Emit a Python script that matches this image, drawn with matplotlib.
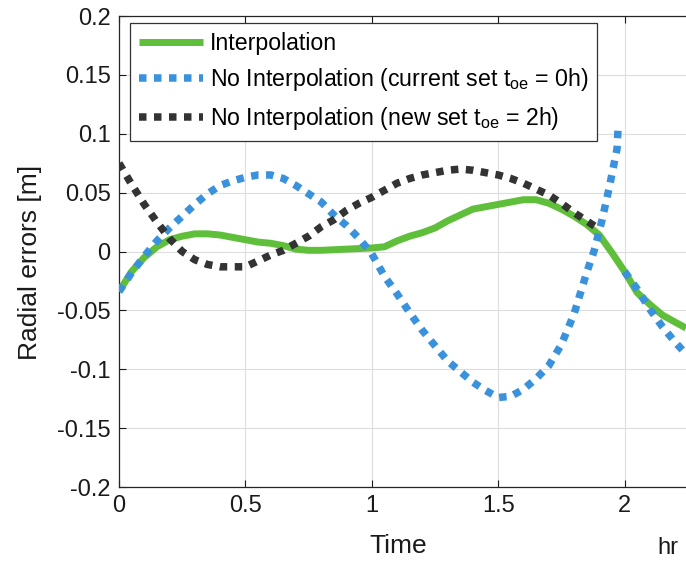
import numpy as np
import matplotlib
matplotlib.use("Agg")
import matplotlib.pyplot as plt

plt.rcParams['font.family'] = ['Liberation Sans', 'DejaVu Sans']
plt.rcParams['mathtext.fontset'] = 'custom'
plt.rcParams['mathtext.rm'] = 'Liberation Sans'
plt.rcParams['mathtext.it'] = 'Liberation Sans:italic'

# ---- data (hours, metres) ----
t_interp = [0, 0.05, 0.1, 0.15, 0.2, 0.25, 0.3, 0.35, 0.4, 0.45, 0.5, 0.55, 0.6, 0.65,
            0.7, 0.75, 0.8, 0.9, 1.0, 1.05, 1.1, 1.15, 1.2, 1.25, 1.3, 1.35, 1.4, 1.45,
            1.5, 1.55, 1.6, 1.65, 1.7, 1.75, 1.8, 1.85, 1.9, 1.95, 2.0, 2.05, 2.1,
            2.15, 2.2, 2.243]
err_interp = [-0.034, -0.017, -0.005, 0.004, 0.010, 0.013, 0.015, 0.015, 0.014, 0.012,
              0.010, 0.008, 0.007, 0.005, 0.002, 0.001, 0.001, 0.002, 0.003, 0.004,
              0.009, 0.013, 0.016, 0.020, 0.026, 0.031, 0.036, 0.038, 0.040, 0.042,
              0.044, 0.044, 0.041, 0.036, 0.030, 0.023, 0.014, -0.001, -0.017, -0.035,
              -0.045, -0.054, -0.060, -0.065]

t_cur = [0, 0.05, 0.1, 0.15, 0.2, 0.25, 0.3, 0.35, 0.4, 0.45, 0.5, 0.55, 0.6, 0.65, 0.7,
         0.75, 0.8, 0.85, 0.9, 0.95, 1.0, 1.05, 1.1, 1.15, 1.2, 1.25, 1.3, 1.35, 1.4,
         1.45, 1.5, 1.55, 1.6, 1.65, 1.7, 1.75, 1.8, 1.85, 1.88, 1.91, 1.94, 1.97, 1.975]
err_cur = [-0.034, -0.018, -0.004, 0.009, 0.020, 0.030, 0.040, 0.049, 0.056, 0.060,
           0.063, 0.065, 0.065, 0.062, 0.056, 0.049, 0.042, 0.031, 0.022, 0.011, -0.002,
           -0.021, -0.036, -0.052, -0.067, -0.080, -0.093, -0.102, -0.111, -0.118,
           -0.124, -0.123, -0.117, -0.108, -0.097, -0.079, -0.053, -0.018, 0.001, 0.026,
           0.055, 0.087, 0.108]
# current set after the switch at 2h
t_cur2 = [2.0, 2.05, 2.1, 2.15, 2.2, 2.243]
err_cur2 = [-0.017, -0.032, -0.049, -0.064, -0.077, -0.087]

t_new = [0, 0.05, 0.1, 0.15, 0.2, 0.25, 0.3, 0.35, 0.4, 0.45, 0.5, 0.55, 0.6, 0.65, 0.7,
         0.75, 0.8, 0.85, 0.9, 0.95, 1.0, 1.05, 1.1, 1.15, 1.2, 1.25, 1.3, 1.35, 1.4,
         1.45, 1.5, 1.55, 1.6, 1.65, 1.7, 1.75, 1.8, 1.85, 1.9]
err_new = [0.075, 0.057, 0.040, 0.025, 0.011, 0.000, -0.007, -0.011, -0.013, -0.013,
           -0.013, -0.008, -0.003, 0.001, 0.007, 0.013, 0.021, 0.027, 0.035, 0.041, 0.046,
           0.052, 0.058, 0.062, 0.065, 0.067, 0.069, 0.070, 0.069, 0.067, 0.065, 0.062,
           0.058, 0.053, 0.048, 0.041, 0.033, 0.026, 0.019]

labels = ['Interpolation',
          r'No Interpolation (current set t$_{\rm oe}$ = 0h)',
          r'No Interpolation (new set t$_{\rm oe}$ = 2h)']
colors = ['#5fbf3a', '#3a92dc', '#333333']

fig = plt.figure(figsize=(6.86, 5.63), dpi=100)
ax = fig.add_axes([119 / 686, 1 - 487 / 563, 1 - 119 / 686, (487 - 16) / 563])

ax.plot(t_interp, err_interp, color=colors[0], lw=5, label=labels[0], zorder=3,
        solid_capstyle='butt')
ax.plot(t_cur, err_cur, color=colors[1], lw=5.4, ls=(0, (1, 1)), label=labels[1],
        dash_capstyle='butt', zorder=4)
ax.plot(t_cur2, err_cur2, color=colors[1], lw=5.4, ls=(0, (1, 1)),
        dash_capstyle='butt', zorder=4)
ax.plot(t_new, err_new, color=colors[2], lw=5.4, ls=(0, (1, 1)), label=labels[2],
        dash_capstyle='butt', zorder=5)

ax.set_xlim(0, 2.243)
ax.set_ylim(-0.2, 0.2)
ax.set_xticks([0, 0.5, 1, 1.5, 2])
ax.set_xticklabels(['0', '0.5', '1', '1.5', '2'])
yt = np.arange(-0.2, 0.201, 0.05)
ax.set_yticks(yt)
ax.set_yticklabels(['-0.2', '-0.15', '-0.1', '-0.05', '0', '0.05', '0.1', '0.15', '0.2'])
ax.tick_params(direction='in', length=5, width=0.8, labelsize=17, colors='#1a1a1a',
               top=True, pad=6)
ax.grid(True, color='#dddddd', lw=0.8)
ax.set_axisbelow(True)
for s in ['left', 'bottom', 'top']:
    ax.spines[s].set_color('#262626')
    ax.spines[s].set_linewidth(0.9)
ax.spines['right'].set_visible(False)

fig.text(398 / 686, 1 - 546 / 563, 'Time', fontsize=19, ha='center', va='center',
         color='#1a1a1a')
fig.text(668 / 686, 1 - 548 / 563, 'hr', fontsize=17, ha='center', va='center',
         color='#1a1a1a')
fig.text(30 / 686, 1 - 262 / 563, 'Radial errors [m]', fontsize=19, rotation=90,
         ha='center', va='center', color='#1a1a1a')

leg = ax.legend(loc='upper left', bbox_to_anchor=(130 / 686, 1 - 23 / 563),
                bbox_transform=fig.transFigure, borderaxespad=0, fontsize=16.7,
                handlelength=2.75, handletextpad=0.3, labelspacing=0.5,
                borderpad=0.38, fancybox=False, framealpha=1, edgecolor='#333333')
leg.get_frame().set_linewidth(0.9)

fig.savefig('out.png', dpi=100)
